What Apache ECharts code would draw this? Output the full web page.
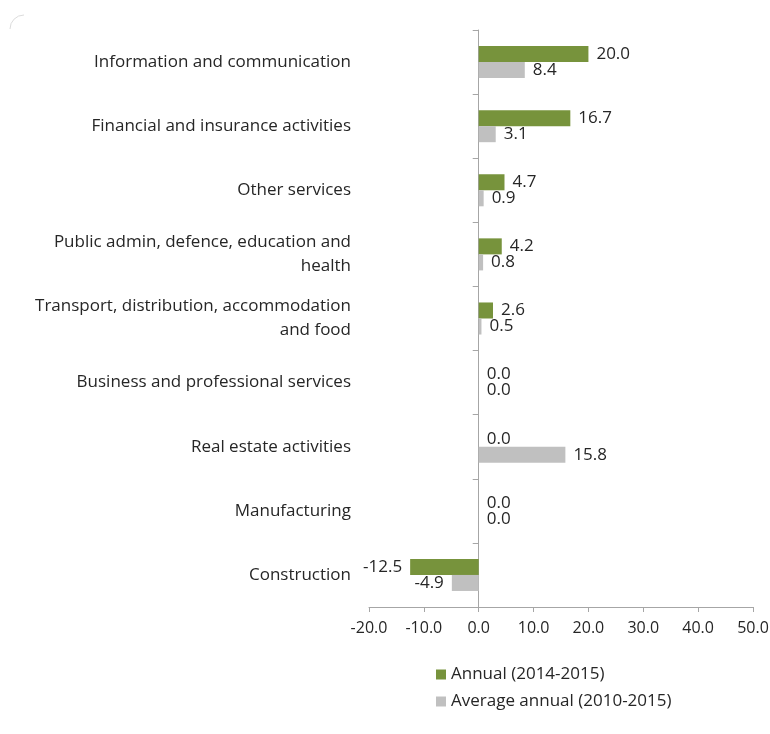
<!DOCTYPE html>
<html>
<head>
<meta charset="utf-8">
<script src="https://cdn.jsdelivr.net/npm/echarts@6/dist/echarts.min.js"></script>
<style>
  html, body { margin: 0; padding: 0; background: #fff; }
  #chart { width: 770px; height: 734px; }
</style>
</head>
<body>
<div id="chart"></div>
<script>
// Sectors, listed top to bottom
const sectors = [
  'Information and communication',
  'Financial and insurance activities',
  'Other services',
  'Public admin, defence, education and health',
  'Transport, distribution, accommodation and food',
  'Business and professional services',
  'Real estate activities',
  'Manufacturing',
  'Construction'
];
// Growth, per cent
const annual2014_2015 = [20.0, 16.7, 4.7, 4.2, 2.6, 0.0, 0.0, 0.0, -12.5];
const avgAnnual2010_2015 = [8.4, 3.1, 0.9, 0.8, 0.5, 0.0, 15.8, 0.0, -4.9];
const seriesNames = ['Annual (2014-2015)', 'Average annual (2010-2015)'];
const xTicks = { min: -20, max: 50, step: 10 };

const FONT = '"Open Sans", "Noto Sans", sans-serif';
const TEXT = '#262626';
const MAX_LINE_CHARS = 38;

// Greedy word wrap for long category names
function wrap(text) {
  const lines = [];
  let line = '';
  text.split(' ').forEach(word => {
    const next = line ? line + ' ' + word : word;
    if (next.length > MAX_LINE_CHARS && line) {
      lines.push(line);
      line = word;
    } else {
      line = next;
    }
  });
  lines.push(line);
  return lines.join('\n');
}

function withLabels(values) {
  return values.map(v => ({
    value: v,
    label: { position: v < 0 ? 'left' : 'right' }
  }));
}

const chart = echarts.init(document.getElementById('chart'), null, { renderer: 'canvas' });
chart.setOption({
  animation: false,
  backgroundColor: '#fff',
  textStyle: { fontFamily: FONT },
  graphic: [{
    // faint rounded corner of the chart frame
    type: 'arc',
    shape: { cx: 24, cy: 29, r: 14, startAngle: Math.PI, endAngle: Math.PI * 1.5 },
    style: { fill: 'none', stroke: '#dcdcdc', lineWidth: 1 },
    silent: true,
    z: -1
  }],
  grid: {
    left: 369, right: 17, top: 30, bottom: 127,
    containLabel: false,
    outerBoundsMode: 'none'
  },
  legend: {
    orient: 'vertical',
    left: 431,
    top: 661,
    itemWidth: 10,
    itemHeight: 10,
    itemGap: 10,
    icon: 'rect',
    textStyle: { fontFamily: FONT, fontSize: 17, color: TEXT },
    data: seriesNames
  },
  xAxis: {
    type: 'value',
    min: xTicks.min,
    max: xTicks.max,
    interval: xTicks.step,
    splitLine: { show: false },
    axisLine: { show: true, lineStyle: { color: '#a6a6a6' } },
    axisTick: { show: true, length: 5, lineStyle: { color: '#a6a6a6' } },
    axisLabel: {
      fontFamily: FONT, fontSize: 16, color: TEXT, margin: 13,
      formatter: v => v.toFixed(1)
    }
  },
  yAxis: {
    type: 'category',
    inverse: true,
    data: sectors,
    axisLine: { onZero: true, lineStyle: { color: '#a6a6a6' } },
    axisTick: { show: true, length: 6, lineStyle: { color: '#a6a6a6' } },
    axisLabel: {
      fontFamily: FONT, fontSize: 17, color: TEXT,
      lineHeight: 24,
      align: 'right',
      margin: 18,
      formatter: wrap
    }
  },
  series: [
    {
      name: seriesNames[0],
      type: 'bar',
      data: withLabels(annual2014_2015),
      itemStyle: { color: '#77933c' },
      barCategoryGap: '50%',
      barGap: '0%',
      label: {
        show: true, fontFamily: FONT, fontSize: 17, color: TEXT, distance: 8,
        formatter: p => p.value.toFixed(1)
      }
    },
    {
      name: seriesNames[1],
      type: 'bar',
      data: withLabels(avgAnnual2010_2015),
      itemStyle: { color: '#c0c0c0' },
      barCategoryGap: '50%',
      barGap: '0%',
      label: {
        show: true, fontFamily: FONT, fontSize: 17, color: TEXT, distance: 8,
        formatter: p => p.value.toFixed(1)
      }
    }
  ]
});
</script>
</body>
</html>
